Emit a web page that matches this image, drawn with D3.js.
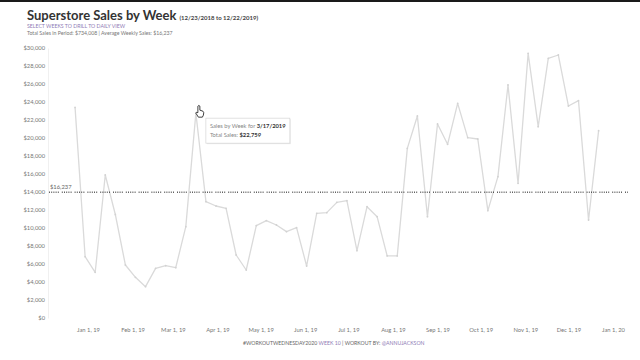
<!DOCTYPE html>
<html><head><meta charset="utf-8">
<script src="https://cdn.jsdelivr.net/npm/d3@7"></script>
<style>
html,body{margin:0;padding:0;background:#fff;}
svg{display:block;font-family:"Lato","Liberation Sans",sans-serif;}
</style></head>
<body><svg id="c" width="640" height="360"></svg>
<script>
const firstWeek = "2018-12-23";
const sales = [23400,6811,5078,15889,11500,5889,4522,3481,5519,5815,5593,10148,22759,12926,12444,12185,7000,5333,10259,10815,10333,9593,10037,5778,11630,11704,12852,13037,7481,12370,11259,6900,6900,18852,22444,11259,21556,19296,23852,20037,19889,11926,15704,25889,14963,29407,21259,28852,29222,23556,24148,10889,20815];
const yTicks = [0,2000,4000,6000,8000,10000,12000,14000,16000,18000,20000,22000,24000,26000,28000,30000];
const xTickLabels = ["2019-01-01","2019-02-01","2019-03-01","2019-04-01","2019-05-01","2019-06-01","2019-07-01","2019-08-01","2019-09-01","2019-10-01","2019-11-01","2019-12-01","2020-01-01"];
const avgLabel = "$16,237";
const titleText = "Superstore Sales by Week";
const rangeText = "(12/23/2018 to 12/22/2019)";
const tooltipDate = "3/17/2019";

const parse = d3.timeParse("%Y-%m-%d");
const start = parse(firstWeek);
const data = sales.map((v,i)=>({date:d3.timeDay.offset(start,7*i), v}));

const svg = d3.select("#c");
svg.append("rect").attr("x",0).attr("y",0).attr("width",640).attr("height",2).attr("fill","#1a1a1a");

const x = d3.scaleTime().domain([parse("2019-01-01"),parse("2020-01-01")]).range([88,613]);
const y = d3.scaleLinear().domain([0,30000]).range([318,48]);

// title
const t = svg.append("text").attr("x",27).attr("y",20).attr("fill","#333");
t.append("tspan").attr("font-size",13).attr("font-weight","bold").text(titleText);
t.append("tspan").attr("font-size",6).attr("font-weight","bold").attr("dx",3).attr("fill","#444").text(rangeText);
svg.append("text").attr("x",27).attr("y",28).attr("font-size",5.2).attr("fill","#8f7bb5").text("SELECT WEEKS TO DRILL TO DAILY VIEW");
svg.append("text").attr("x",27).attr("y",35).attr("font-size",5.2).attr("fill","#777").text("Total Sales in Period: $734,008 | Average Weekly Sales: $16,237");

// y axis
const ya = svg.append("g").attr("transform","translate(48,0)")
  .call(d3.axisLeft(y).tickValues(yTicks).tickSize(0).tickPadding(3).tickFormat(d=>"$"+d3.format(",")(d)));
ya.select(".domain").attr("stroke","#f0f0f0");
ya.selectAll("text").attr("font-size",5.8).attr("fill","#777").attr("font-family","Lato, Liberation Sans, sans-serif");

// x axis
const xa = svg.append("g").attr("transform","translate(0,325)")
  .call(d3.axisBottom(x).tickValues(xTickLabels.map(parse)).tickSize(0).tickPadding(3).tickFormat(d3.timeFormat("%b %-d, %y")));
xa.select(".domain").remove();
xa.selectAll("text").attr("font-size",5.8).attr("fill","#777").attr("font-family","Lato, Liberation Sans, sans-serif");

// line
svg.append("path").datum(data)
  .attr("d", d3.line().x(d=>x(d.date)).y(d=>y(d.v)))
  .attr("fill","none").attr("stroke","#dadada").attr("stroke-width",1.3).attr("stroke-linejoin","round");
svg.append("g").selectAll("circle").data(data).join("circle")
  .attr("cx",d=>x(d.date)).attr("cy",d=>y(d.v)).attr("r",0.9).attr("fill","#d2d2d2");

// average line
const avg = d3.mean(sales);
svg.append("line").attr("x1",49).attr("x2",628).attr("y1",y(avg)).attr("y2",y(avg))
  .attr("stroke","#111").attr("stroke-width",1).attr("stroke-dasharray","1,1.2,1,1.2,1,1.2,1,1.2,1,3");
svg.append("text").attr("x",50).attr("y",y(avg)-3).attr("font-size",5.8).attr("fill","#666").text(avgLabel);

// tooltip
const tp = data.find(d=>d3.timeFormat("%-m/%-d/%Y")(d.date)===tooltipDate);
const tx = x(tp.date)+10, ty = y(tp.v)+5;
svg.append("rect").attr("x",tx+1).attr("y",ty+1).attr("width",84).attr("height",25).attr("fill","#ececec");
svg.append("rect").attr("x",tx).attr("y",ty).attr("width",84).attr("height",25).attr("fill","#fff").attr("stroke","#d5d5d5").attr("stroke-width",0.7);
const l1 = svg.append("text").attr("x",tx+4).attr("y",ty+10).attr("font-size",5.8).attr("fill","#888");
l1.append("tspan").text("Sales by Week for ");
l1.append("tspan").attr("font-weight","bold").attr("fill","#333").text(tooltipDate);
const l2 = svg.append("text").attr("x",tx+4).attr("y",ty+19).attr("font-size",5.8).attr("fill","#888");
l2.append("tspan").text("Total Sales: ");
l2.append("tspan").attr("font-weight","bold").attr("fill","#333").text("$"+d3.format(",")(tp.v));
// cursor hand
svg.append("path").attr("d",`M${x(tp.date)+2},${y(tp.v)-2} l0,-5 q1,-1.5 2,0 l0,4 l3,1 q1.5,1 0.5,4 l-1,2 l-4,0 l-2.5,-4 q0,-1.5 2,-0.5 z`)
  .attr("fill","#fff").attr("stroke","#111").attr("stroke-width",0.8);

// footer
const f = svg.append("text").attr("x",243).attr("y",345).attr("font-size",5.2).attr("fill","#666");
f.append("tspan").text("#WORKOUTWEDNESDAY2020 ");
f.append("tspan").attr("fill","#8f7bb5").text("WEEK 10");
f.append("tspan").text(" | WORKOUT BY: ");
f.append("tspan").attr("fill","#8f7bb5").text("@ANNUJACKSON");
</script></body></html>
